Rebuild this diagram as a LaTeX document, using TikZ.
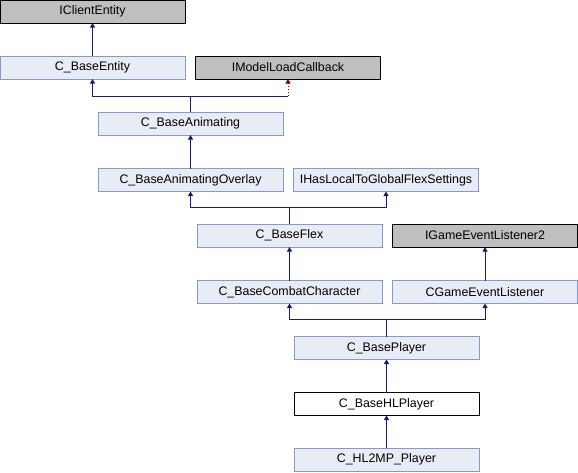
\documentclass[tikz,border=0pt]{standalone}
\usepackage{fontspec}
\setmainfont{Liberation Sans}
\usepackage{tikz}
\usetikzlibrary{arrows.meta}
\definecolor{dxfill}{RGB}{232,236,245}
\definecolor{dxedge}{RGB}{132,154,204}
\definecolor{dxgray}{RGB}{191,191,191}
\definecolor{dxblue}{RGB}{25,25,112}
\definecolor{dxred}{RGB}{139,0,0}

\begin{document}
\begin{tikzpicture}[x=1pt,y=-1pt,
  cls/.style={draw=dxedge, fill=dxfill, line width=1pt, minimum width=185pt, minimum height=23pt,
    inner sep=0pt, outer sep=0pt, font=\fontsize{12.4}{14}\selectfont},
  ext/.style={cls, draw=black, fill=dxgray},
  cur/.style={cls, draw=black, fill=white},
  inh/.style={draw=dxblue, line width=1pt, -{Triangle[length=4.5pt,width=5pt]}},
  prv/.style={draw=dxred, line width=1pt, dotted, -{Triangle[length=4.5pt,width=5pt]}}]
\useasboundingbox (0,0) rectangle (578,472);
% Classes
\node[ext] (ice) at (92.5,11.5) {IClientEntity};
\node[cls] (cbe) at (92.5,67.5) {C\_BaseEntity};
\node[ext] (imlc) at (288,67.5) {IModelLoadCallback};
\node[cls] (cba) at (190.5,123.5) {C\_BaseAnimating};
\node[cls] (cbao) at (190.5,180) {C\_BaseAnimatingOverlay};
\node[cls] (ihl) at (386,180) {IHasLocalToGlobalFlexSettings};
\node[cls] (cbf) at (289.5,235.5) {C\_BaseFlex};
\node[ext] (igel) at (485,235.5) {IGameEventListener2};
\node[cls] (cbcc) at (289.5,292) {C\_BaseCombatCharacter};
\node[cls] (cgel) at (485,292) {CGameEventListener};
\node[cls] (cbp) at (386.5,348) {C\_BasePlayer};
\node[cur] (cbhl) at (386.5,404) {C\_BaseHLPlayer};
\node[cls] (chl) at (386.5,459.5) {C\_HL2MP\_Player};
% Inheritance
\draw[inh] (cbe.north) -- (ice.south);
\draw[inh] (cba.north) -- ++(0,-16) coordinate (j1) -| (cbe.south);
\draw[dxblue, line width=1pt] (j1) -- (j1 -| imlc.south) coordinate (j2);
\draw[prv] (j2) -- (imlc.south);
\draw[inh] (cbao.north) -- (cba.south);
\draw[inh] (cbf.north) -- ++(0,-16.5) coordinate (j3) -| (cbao.south);
\draw[inh] (j3) -| (ihl.south);
\draw[inh] (cbcc.north) -- (cbf.south);
\draw[inh] (cgel.north) -- (igel.south);
\draw[inh] (cbp.north) -- ++(0,-17) coordinate (j4) -| (cbcc.south);
\draw[inh] (j4) -| (cgel.south);
\draw[inh] (cbhl.north) -- (cbp.south);
\draw[inh] (chl.north) -- (cbhl.south);
\end{tikzpicture}
\end{document}
